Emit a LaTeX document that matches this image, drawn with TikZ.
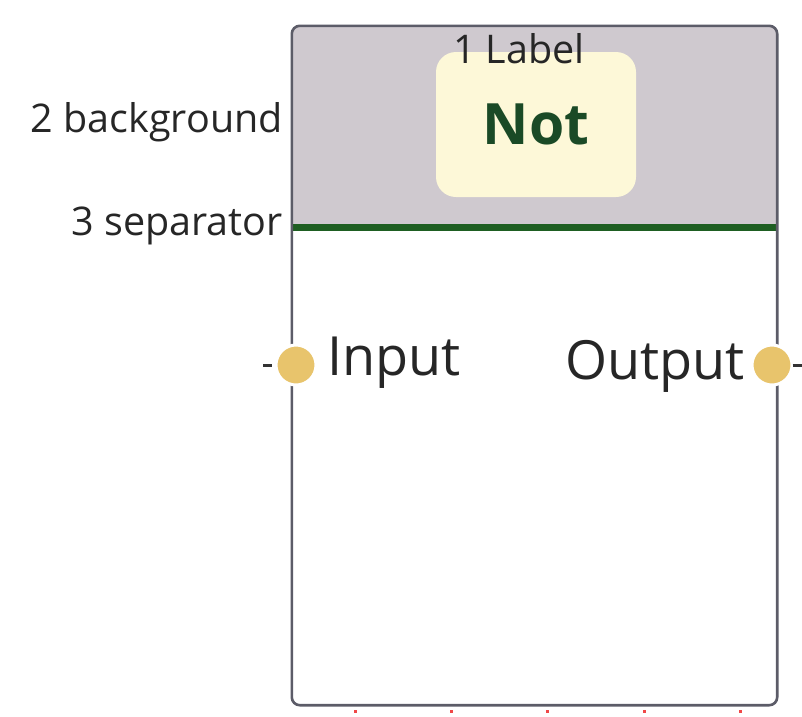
\documentclass[tikz,border=0pt]{standalone}
\usepackage{fontspec}
\setmainfont{Open Sans}
\usepackage{tikz}
\usetikzlibrary{positioning}

\definecolor{headerbg}{HTML}{CFC9CF}
\definecolor{labelbg}{HTML}{FDF8D8}
\definecolor{sepgreen}{HTML}{1E5E22}
\definecolor{titlegreen}{HTML}{1A4A26}
\definecolor{bordergrey}{HTML}{5C5C68}
\definecolor{portfill}{HTML}{E8C46C}
\definecolor{tickred}{HTML}{F04848}

\tikzset{
    blockbox/.style={fill=white, minimum width=485pt, minimum height=679pt, inner sep=0pt},
    labelbox/.style={fill=labelbg, rounded corners=20pt, minimum width=200pt, minimum height=145pt,
        text=titlegreen, font=\fontsize{57}{60}\selectfont\bfseries},
    note/.style={font=\fontsize{39.5}{44}\selectfont, text=black!85, inner sep=0pt},
    portname/.style={font=\fontsize{54}{60}\selectfont, text=black!85, inner sep=0pt},
    port/.style={circle, fill=portfill, draw=white, line width=3pt, minimum size=40pt, inner sep=0pt},
    stub/.style={black!80, line width=3pt}
}

\begin{document}
\begin{tikzpicture}[x=1pt,y=-1pt]
        \useasboundingbox (0,0) rectangle (802,716);
        \node[blockbox] (block) at (534.5,365.5) {};
        \coordinate (sep) at (0,227);
        \coordinate (hdr) at (0,180);
        \fill[headerbg, rounded corners=8pt] (block.north west) rectangle (block.east |- sep);
        \fill[headerbg] (block.west |- hdr) rectangle (block.east |- sep);
        \draw[sepgreen, line width=7pt] (block.west |- sep) -- (block.east |- sep);
        \draw[bordergrey, line width=2.6pt, rounded corners=8pt] (block.north west) rectangle (block.south east);
        \node[labelbox] (title) at (536,124.5) {Not};
        \node[note, anchor=base] (labelnote) at (519,63) {1 Label};
        \node[note, anchor=base east] (bgnote) at (283,132) {2 background};
        \node[note, anchor=base east] (sepnote) at (283,235) {3 separator};
        \node[port] (inport) at (296,365) {};
        \node[port] (outport) at (772,365) {};
        \draw[stub] ([xshift=-3pt]inport.west) -- ++(-9,0);
        \draw[stub] ([xshift=-1pt]outport.east) -- ++(9,0);
        \node[portname, anchor=base west] (inname) at (327,375) {Input};
        \node[portname, anchor=base east] (outname) at (745,379) {Output};
        \foreach \x in {354,450,546,643,739}
            \fill[tickred] (\x,709.5) rectangle ++(3,3);
    \end{tikzpicture}
\end{document}
